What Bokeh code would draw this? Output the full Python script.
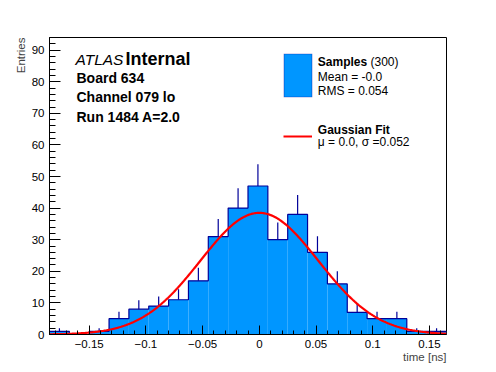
import numpy as np
from bokeh.plotting import figure
from bokeh.models import Label, BoxAnnotation, FixedTicker, CustomJSTickFormatter, Title
from bokeh.embed import file_html
from bokeh.resources import INLINE

# ---------------- data ----------------
x_start, x_end = -0.185, 0.165
n_bins = 20
counts = [1, 0, 1, 5, 8, 9, 11, 17, 31, 40, 47, 30, 38, 26, 16, 7, 5, 5, 1, 1]
y_max = 94
x_ticks = [-0.15, -0.1, -0.05, 0.0, 0.05, 0.1, 0.15]
x_minor = [round(-0.18 + 0.01 * i, 3) for i in range(35)]
y_ticks = [0, 10, 20, 30, 40, 50, 60, 70, 80, 90]
y_minor = list(range(0, 95, 2))
fit_mu, fit_sigma, fit_amp = 0.0, 0.052, 38.5

FILL = "#0096ff"
EDGE = "#000099"
FONT = "Liberation Sans"

# frame geometry in page pixels
W, H = 496, 372
FL, FR, FT, FB = 49, 446, 37, 334


def X(px):
    return x_start + (px - FL) * (x_end - x_start) / (FR - FL)


def Y(py):
    return y_max * (FB - py) / (FB - FT)


p = figure(width=W, height=H, x_range=(x_start, x_end), y_range=(0, y_max),
           output_backend="svg", toolbar_location=None,
           min_border_left=FL, min_border_right=W - FR,
           min_border_top=FT, min_border_bottom=H - FB)
p.background_fill_color = "white"
p.border_fill_color = "white"
p.outline_line_color = "black"
p.outline_line_width = 1
p.xgrid.visible = False
p.ygrid.visible = False

# histogram
edges = np.linspace(x_start, x_end, n_bins + 1)
cnt = np.array(counts, dtype=float)
p.quad(left=edges[:-1], right=edges[1:], bottom=0, top=cnt,
       fill_color=FILL, line_color=None)
sx = list(edges[:-1]) + [edges[-1]]
sy = list(cnt) + [cnt[-1]]
p.step(x=sx, y=sy, mode="after", line_color=EDGE, line_width=1.2)
centers = 0.5 * (edges[:-1] + edges[1:])
m = cnt > 0
p.segment(x0=centers[m], y0=cnt[m], x1=centers[m], y1=cnt[m] + np.sqrt(cnt[m]),
          line_color=EDGE, line_width=1.2)

# gaussian fit
gx = np.linspace(x_start, x_end, 400)
gy = fit_amp * np.exp(-0.5 * ((gx - fit_mu) / fit_sigma) ** 2)
p.line(gx, gy, line_color="red", line_width=2.2)

# axes
for ax in (p.xaxis[0], p.yaxis[0]):
    ax.axis_line_color = "black"
    ax.major_tick_out = 0
    ax.minor_tick_out = 0
    ax.major_tick_line_color = "black"
    ax.minor_tick_line_color = "black"
    ax.major_label_text_font = FONT
    ax.major_label_text_font_size = "11.5px"
    ax.major_label_text_color = "black"
p.xaxis.ticker = FixedTicker(ticks=x_ticks, minor_ticks=x_minor)
p.xaxis.formatter = CustomJSTickFormatter(
    code="if (Math.abs(tick) < 1e-9) {return '0';} return tick < 0 ? '\u2212' + String(-tick) : String(tick);")
p.xaxis.major_tick_in = 9
p.xaxis.minor_tick_in = 4
p.xaxis.major_label_standoff = 5
p.yaxis.ticker = FixedTicker(ticks=y_ticks, minor_ticks=y_minor)
p.yaxis.major_tick_in = 11
p.yaxis.minor_tick_in = 6
p.yaxis.major_label_standoff = 5

# axis titles
p.add_layout(Title(text="time [ns]", align="right", text_font=FONT, text_font_size="11.5px",
                   text_font_style="normal", standoff=-3, offset=0), "below")
p.add_layout(Title(text="Entries", align="right", text_font=FONT, text_font_size="11.5px",
                   text_font_style="normal", standoff=4, offset=0), "left")


def lab(text, px, py, size, style="normal", font=FONT):
    p.add_layout(Label(x=X(px), y=Y(py), text=text, text_font=font, text_font_size=size,
                       text_font_style=style, text_align="left", text_baseline="alphabetic",
                       text_color="black"))


# ATLAS block
lab("ATLAS", 75, 58.5, "15.5px", style="italic")
lab("Internal", 125, 58.5, "18px", style="bold")
lab("Board 634", 76, 77, "14px", style="bold")
lab("Channel 079 lo", 76, 96.5, "14px", style="bold")
lab("Run 1484 A=2.0", 76, 116, "14px", style="bold")

# legend
p.add_layout(BoxAnnotation(left=X(283.5), right=X(311.5), top=Y(53.5), bottom=Y(96.5),
                           fill_color=FILL, fill_alpha=1, line_color=EDGE, line_width=1.2))
p.segment(x0=[X(283)], y0=[Y(136)], x1=[X(311.5)], y1=[Y(136)], line_color="red", line_width=2.2)
lab("Samples", 317.3, 61, "12px", style="bold")
lab("(300)", 370, 61, "12px")
lab("Mean = -0.0", 317.3, 76.5, "12px")
lab("RMS = 0.054", 317.3, 90.5, "12px")
lab("Gaussian Fit", 317.3, 129.5, "12px", style="bold")
lab("\u03bc = 0.0, \u03c3 =0.052", 317.3, 141.5, "12px")

open("out.html", "w").write(file_html(p, INLINE))
